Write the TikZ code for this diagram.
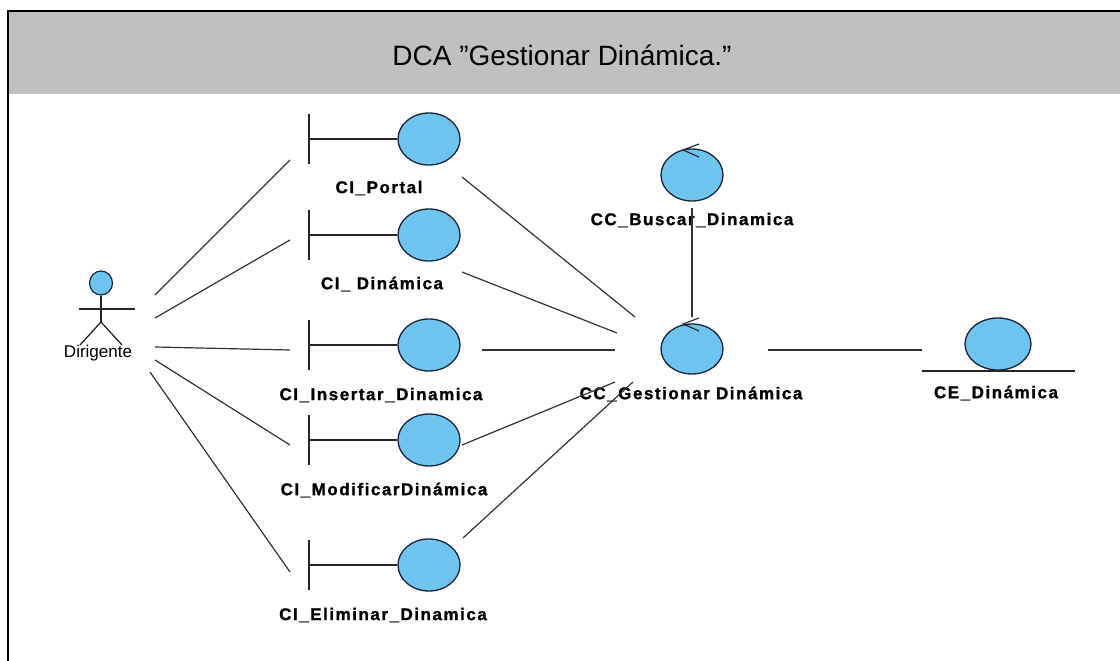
\documentclass[tikz,border=0pt]{standalone}
\usepackage{fontspec}
\setmainfont{Liberation Sans}
\newfontfamily\lblfont[BoldFont={Liberation Sans Bold},BoldFeatures={FakeBold=1.2},LetterSpace=9]{Liberation Sans}
\usetikzlibrary{shapes.geometric,calc}
\definecolor{objfill}{RGB}{110,196,238}
\definecolor{objline}{RGB}{25,35,55}
\definecolor{headgray}{RGB}{192,192,192}
\begin{document}
\begin{tikzpicture}[x=1pt,y=-1pt,
  obj/.style={ellipse,draw=objline,fill=objfill,line width=1.3pt,
    minimum width=62pt,minimum height=52pt,inner sep=0pt},
  bar/.style={inner sep=0pt,minimum width=0pt,minimum height=50pt},
  lbl/.style={font=\lblfont\bfseries\fontsize{17}{17}\selectfont,inner sep=0pt},
  stroke/.style={line width=1.3pt,draw=black!85},
  link/.style={line width=1.2pt,draw=black!80},
  ctlarrow/.style={line width=1.1pt,draw=objline}
]
\useasboundingbox (0,0) rectangle (1120,661);

% title band and frame
\fill[headgray] (8,12) rectangle (1120,94);
\draw[line width=2.6pt] (8,661) -- (8,11) -- (1120,11);
\node[font=\fontsize{28}{28}\selectfont] (title) at (562,55) {DCA ”Gestionar Dinámica.”};

% actor
\node[ellipse,draw=objline,fill=objfill,line width=1.2pt,minimum width=23pt,
  minimum height=24pt,inner sep=0pt] (head) at (101,283) {};
\coordinate (hip) at ($(head)+(0,39)$);
\draw[stroke] (head.south) -- (hip);
\draw[stroke] ($(head)+(-22,26)$) -- ($(head)+(34,26)$);
\draw[stroke] ($(hip)+(-21,23)$) -- (hip) -- ($(hip)+(21,23)$);
\node[font=\fontsize{17}{17}\selectfont,inner sep=0pt] (dir) at (98,353) {Dirigente};

% boundary objects
\foreach \n/\y in {ciP/139,ciD/235,ciI/345,ciM/440,ciE/565}{
  \node[bar] (\n b) at (309,\y) {};
  \node[obj] (\n) at (429,\y) {};
  \draw[stroke] (\n b.north) -- (\n b.south);
  \draw[stroke] (\n b) -- (\n);
}
\node[lbl] (lP) at (379,188) {CI\_Portal};
\node[lbl] (lD) at (382,284) {CI\_ Dinámica};
\node[lbl] (lI) at (381,395) {CI\_Insertar\_Dinamica};
\node[lbl] (lM) at (384,490) {CI\_ModificarDinámica};
\node[lbl] (lE) at (383,615) {CI\_Eliminar\_Dinamica};

% control objects
\node[obj] (busc) at (692,175) {};
\node[obj,minimum height=50pt] (gest) at (692,349) {};
\foreach \c in {busc,gest}{
  \draw[ctlarrow] ($(\c)+(7,-31)$) -- ($(\c)+(-9,-25)$) -- ($(\c)+(7,-18)$);
}
\node[lbl] (lB) at (692,220) {CC\_Buscar\_Dinamica};
\node[lbl] (lG) at (691,394) {CC\_Gestionar Dinámica};

% entity object
\node[obj,minimum width=66pt] (ent) at (998,344) {};
\coordinate (entL) at ($(ent)+(-76,27)$);
\coordinate (entR) at ($(ent)+(77,27)$);
\draw[stroke] (entL) -- (entR);
\node[lbl] (lC) at (996,393) {CE\_Dinámica};

% connector end points
\coordinate (aP) at ($(hip)+(54,-27)$);
\coordinate (aD) at ($(hip)+(54,-4)$);
\coordinate (aI) at ($(hip)+(54,25)$);
\coordinate (aM) at ($(hip)+(54,38)$);
\coordinate (aE) at ($(hip)+(49,50)$);
\coordinate (bP) at ($(ciPb)+(-19,21)$);
\coordinate (bD) at ($(ciDb)+(-19,5)$);
\coordinate (bI) at ($(ciIb)+(-19,5)$);
\coordinate (bM) at ($(ciMb)+(-19,5)$);
\coordinate (bE) at ($(ciEb)+(-19,7)$);
\coordinate (cP) at ($(ciP)+(33,38)$);
\coordinate (cD) at ($(ciD)+(33,37)$);
\coordinate (cI) at ($(ciI)+(53,5)$);
\coordinate (cM) at ($(ciM)+(33,5)$);
\coordinate (cE) at ($(ciE)+(34,-27)$);
\coordinate (gP) at ($(gest)+(-57,-32)$);
\coordinate (gD) at ($(gest)+(-75,-16)$);
\coordinate (gI) at ($(gest)+(-77,1)$);
\coordinate (gM) at ($(gest)+(-77,33)$);
\coordinate (gE) at ($(gest)+(-59,33)$);
\coordinate (gR) at ($(gest)+(76,1)$);
\coordinate (gT) at ($(gest)+(0,-32)$);
\coordinate (bB) at ($(busc)+(0,33)$);
\coordinate (eL) at ($(ent)+(-76,6)$);

% actor to boundaries
\draw[link] (aP) -- (bP);
\draw[link] (aD) -- (bD);
\draw[link] (aI) -- (bI);
\draw[link] (aM) -- (bM);
\draw[link] (aE) -- (bE);
% boundaries to controller
\draw[link] (cP) -- (gP);
\draw[link] (cD) -- (gD);
\draw[link] (cI) -- (gI);
\draw[link] (cM) -- (gM);
\draw[link] (cE) -- (gE);
% controller links
\draw[link] (bB) -- (gT);
\draw[link] (gR) -- (eL);
\end{tikzpicture}
\end{document}
